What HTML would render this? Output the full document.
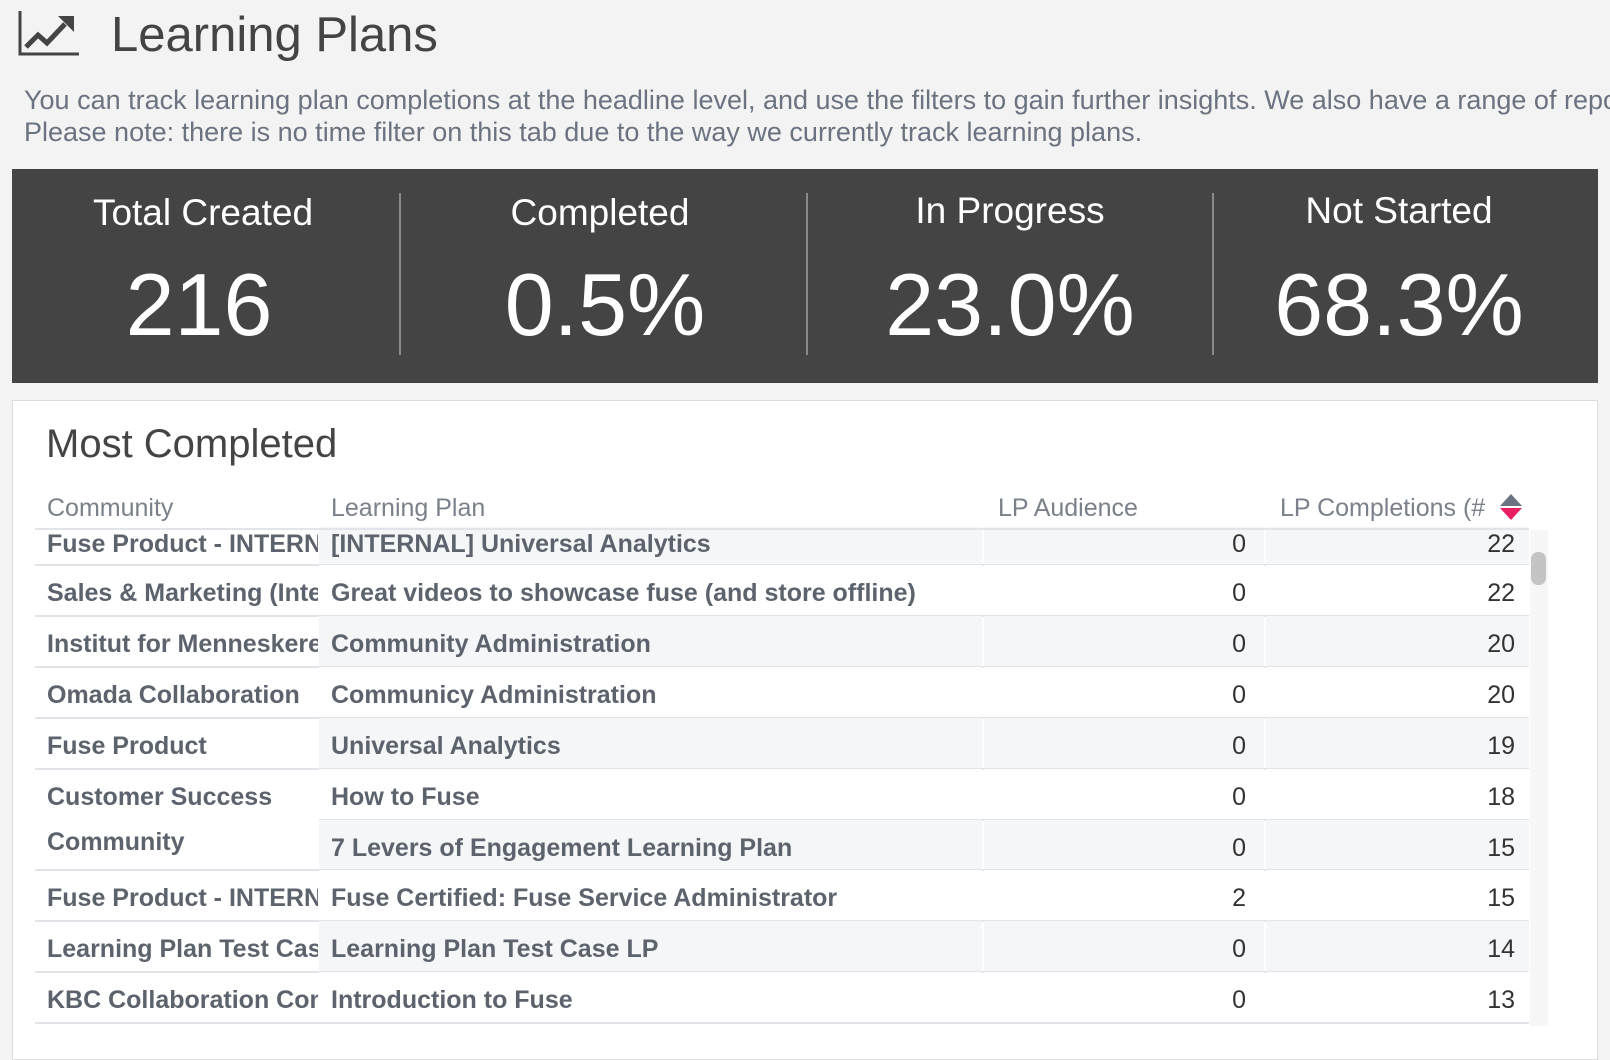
<!DOCTYPE html>
<html><head><meta charset="utf-8"><style>
*{margin:0;padding:0;box-sizing:border-box}
body{width:1610px;height:1048px;background:#f3f3f3;font-family:"Liberation Sans",sans-serif;position:relative;overflow:hidden}
.a{position:absolute;white-space:nowrap}
.lab{color:#fff;font-size:37px;text-align:center;width:380px}
.num{color:#fff;font-size:88px;text-align:center;width:380px}
.div{position:absolute;top:193px;width:2px;height:162px;background:#8a8a8a}
.cell{position:absolute;overflow:hidden;white-space:nowrap;font-size:25px;font-weight:bold;color:#5c636d;padding-top:14px}
.hdr{position:absolute;font-size:25px;color:#7a818b;white-space:nowrap;overflow:hidden}
.line{position:absolute;height:2px;background:#e1e5ea}
</style></head><body>
<svg class="a" style="left:18px;top:10px" width="62" height="46" viewBox="0 0 62 46">
<path d="M2 1V44H61" stroke="#444" stroke-width="3" fill="none"/>
<path d="M8 37L20 25L29 33L47 14" stroke="#444" stroke-width="5" fill="none"/>
<path d="M40 6H56V22Z" fill="#444"/>
</svg>
<div class="a" style="left:111px;top:7px;font-size:49px;color:#444">Learning Plans</div>
<div class="a" style="left:24px;top:84px;font-size:27px;color:#6b7380;line-height:32px">You can track learning plan completions at the headline level, and use the filters to gain further insights. We also have a range of reports<br>Please note: there is no time filter on this tab due to the way we currently track learning plans.</div>
<div class="a" style="left:12px;top:169px;width:1586px;height:214px;background:#444"></div>
<div class="div" style="left:399px"></div><div class="div" style="left:806px"></div><div class="div" style="left:1212px"></div>
<div class="a lab" style="left:13px;top:192px">Total Created</div>
<div class="a lab" style="left:410px;top:192px">Completed</div>
<div class="a lab" style="left:820px;top:190px">In Progress</div>
<div class="a lab" style="left:1209px;top:190px">Not Started</div>
<div class="a num" style="left:9px;top:254px">216</div>
<div class="a num" style="left:415px;top:254px">0.5%</div>
<div class="a num" style="left:820px;top:254px">23.0%</div>
<div class="a num" style="left:1209px;top:254px">68.3%</div>
<div class="a" style="left:12px;top:400px;width:1586px;height:660px;background:#fff;border:1px solid #dcdcdc"></div>
<div class="a" style="left:46px;top:422px;font-size:40px;color:#444">Most Completed</div>
<div class="hdr" style="left:47px;top:494px;width:270px">Community</div>
<div class="hdr" style="left:331px;top:494px">Learning Plan</div>
<div class="hdr" style="left:998px;top:494px">LP Audience</div>
<div class="hdr" style="left:1280px;top:494px;width:212px">LP Completions (#</div>
<svg class="a" style="left:1500px;top:494px" width="22" height="28"><path d="M11 0L22 12H0Z" fill="#6b7280"/><path d="M0 14H22L11 26Z" fill="#e91e63"/></svg>
<div class="a" style="left:1530px;top:530px;width:18px;height:496px;background:#f7f7f7"></div>
<div class="a" style="left:1531px;top:552px;width:15px;height:33px;background:#c4c4c4;border-radius:7px"></div>
<div id="t"></div>
<script>
var rows=[["Fuse Product - INTERNAL","[INTERNAL] Universal Analytics","0","22"],
["Sales & Marketing (Internal)","Great videos to showcase fuse (and store offline)","0","22"],
["Institut for Menneskerettigheder","Community Administration","0","20"],
["Omada Collaboration","Communicy Administration","0","20"],
["Fuse Product","Universal Analytics","0","19"],
["Customer Success","How to Fuse","0","18"],
["Community","7 Levers of Engagement Learning Plan","0","15"],
["Fuse Product - INTERNAL","Fuse Certified: Fuse Service Administrator","2","15"],
["Learning Plan Test Case","Learning Plan Test Case LP","0","14"],
["KBC Collaboration Community","Introduction to Fuse","0","13"]];
var tops=[527,565,616,667,718,769,820,870,921,972,1023];
var h="";
for(var i=0;i<10;i++){var t=tops[i],hh=tops[i+1]-t,g=(i%2==0)?"#f5f6f8":"#fff";
var pt=(i==0)?3:14;
h+='<div class="cell" style="left:35px;top:'+t+'px;width:283px;height:'+hh+'px;padding-left:12px;padding-top:'+pt+'px;'+(i==6?'padding-top:8px;':'')+'">'+rows[i][0].replace(/&/g,"&amp;")+'</div>';
h+='<div class="cell" style="left:319px;top:'+t+'px;width:663px;height:'+hh+'px;background:'+g+';padding-left:12px;padding-top:'+pt+'px">'+rows[i][1]+'</div>';
h+='<div class="cell" style="left:984px;top:'+t+'px;width:280px;height:'+hh+'px;background:'+g+';text-align:right;padding-right:18px;font-weight:normal;color:#333;padding-top:'+pt+'px">'+rows[i][2]+'</div>';
h+='<div class="cell" style="left:1266px;top:'+t+'px;width:263px;height:'+hh+'px;background:'+g+';text-align:right;padding-right:14px;font-weight:normal;color:#333;padding-top:'+pt+'px">'+rows[i][3]+'</div>';
var l=(i==5)?319:35;
h+='<div class="line" style="left:'+l+'px;top:'+(tops[i+1]-1)+'px;width:'+(1529-l)+'px"></div>';}
h+='<div class="line" style="left:35px;top:528px;width:1494px"></div>';
document.getElementById("t").innerHTML=h;
</script>
</body></html>
